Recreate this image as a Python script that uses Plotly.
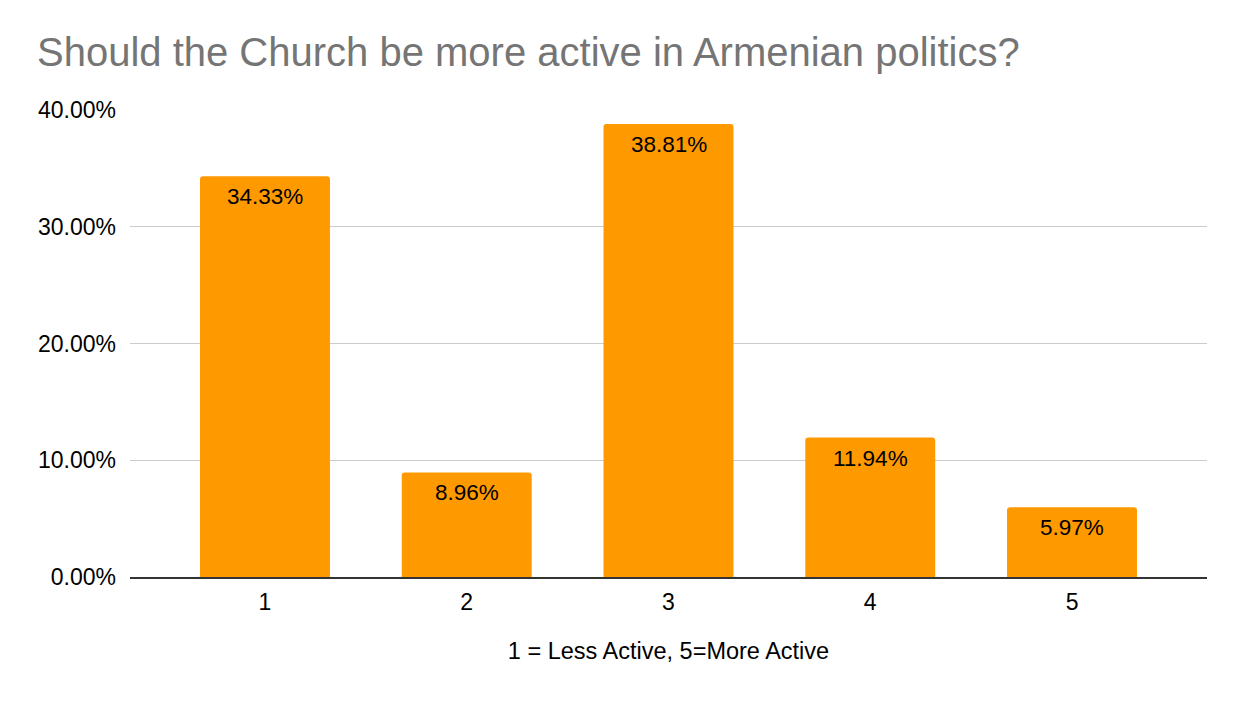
import plotly.graph_objects as go

categories = ["1", "2", "3", "4", "5"]
values = [0.3433, 0.0896, 0.3881, 0.1194, 0.0597]
labels = ["34.33%", "8.96%", "38.81%", "11.94%", "5.97%"]
y_ticks = [0, 0.1, 0.2, 0.3, 0.4]
y_tick_labels = ["0.00%", "10.00%", "20.00%", "30.00%", "40.00%"]

FONT = "Liberation Sans, Arial"

fig = go.Figure(go.Bar(
    x=categories, y=values,
    marker=dict(color="#FF9900", line=dict(width=0)),
    hoverinfo="x+y",
))

# annotations placed on the category axis by category index
for i, (v, t) in enumerate(zip(values, labels)):
    fig.add_annotation(x=i, y=v, text=t, showarrow=False, yanchor="top",
                       yshift=-6, font=dict(family=FONT, size=22.5, color="#000000"))

fig.update_layout(
    width=1234, height=700,
    paper_bgcolor="white", plot_bgcolor="white",
    margin=dict(l=122, r=35, t=102, b=131),
    bargap=0.356,
    barcornerradius=3,
    showlegend=False,
    font=dict(family=FONT, color="#000000"),
    title=dict(text="Should the Church be more active in Armenian politics?",
               x=0.0235, xanchor="left", y=0.937, yanchor="middle",
               font=dict(size=40, color="#757575", family=FONT)),
    xaxis=dict(title=dict(text="1 = Less Active, 5=More Active", font=dict(size=23.5), standoff=28),
               type="category", range=[-0.669, 4.669],
               tickfont=dict(size=23), showgrid=False, showline=True, linecolor="#333333",
               linewidth=1.5, ticks="", ticklabelstandoff=4),
    yaxis=dict(range=[0, 0.4], tickvals=y_ticks, ticktext=y_tick_labels,
               tickfont=dict(size=23), showgrid=True, gridcolor="#CCCCCC", gridwidth=1,
               zeroline=False, ticks="", ticklabelstandoff=13),
)

fig.write_html("out.html")
